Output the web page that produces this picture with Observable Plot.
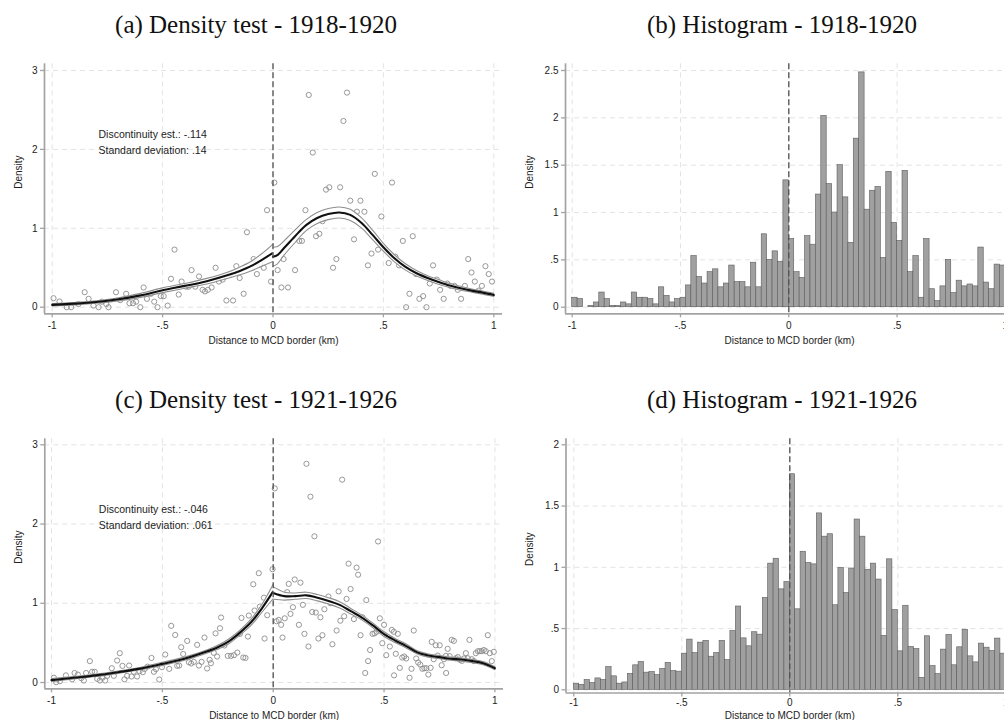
<!DOCTYPE html>
<html><head><meta charset="utf-8">
<script src="https://cdn.jsdelivr.net/npm/d3@7"></script>
<script src="https://cdn.jsdelivr.net/npm/@observablehq/plot@0.6"></script>
<style>
html,body{margin:0;padding:0;background:#fff;overflow:hidden;width:1004px;height:720px;}
#root{position:relative;width:1004px;height:720px;overflow:hidden;background:#fff;}
.title{position:absolute;font-family:"Liberation Serif","Times New Roman",serif;font-size:25px;line-height:1;color:#111;white-space:nowrap;transform:translateX(-50%);}
</style></head><body><div id="root"></div>
<script>
// ---------- tick values & labels ----------
const xTicks = [-1, -0.5, 0, 0.5, 1];
const aYTicks = [0, 1, 2, 3];
const bYTicks = [0, 0.5, 1, 1.5, 2, 2.5];
const cYTicks = [0, 1, 2, 3];
const dYTicks = [0, 0.5, 1, 1.5, 2];
const xTitle = "Distance to MCD border (km)";
const yTitle = "Density";
const titles = ["(a) Density test - 1918-1920", "(b) Histogram - 1918-1920", "(c) Density test - 1921-1926", "(d) Histogram - 1921-1926"];
const aNote = ["Discontinuity est.: -.114", "Standard deviation: .14"];
const cNote = ["Discontinuity est.: -.046", "Standard deviation: .061"];

// ---------- panel (a) scatter ----------
const aDotX = [-0.994,-0.967,-0.934,-0.914,-0.881,-0.853,-0.835,-0.813,-0.79,-0.775,-0.755,-0.745,-0.711,-0.692,-0.665,-0.65,-0.634,-0.62,-0.601,-0.586,-0.571,-0.553,-0.538,-0.523,-0.508,-0.495,-0.477,-0.462,-0.446,-0.427,-0.414,-0.393,-0.382,-0.369,-0.352,-0.335,-0.319,-0.308,-0.295,-0.278,-0.26,-0.245,-0.228,-0.211,-0.196,-0.181,-0.166,-0.151,-0.133,-0.118,-0.088,-0.073,-0.057,-0.042,-0.027,-0.009,
0.006,0.021,0.038,0.048,0.068,0.1,0.119,0.131,0.147,0.162,0.18,0.195,0.21,0.224,0.24,0.255,0.272,0.287,0.304,0.319,0.335,0.35,0.367,0.38,0.396,0.414,0.43,0.446,0.461,0.476,0.491,0.509,0.524,0.539,0.554,0.571,0.588,0.603,0.618,0.633,0.648,0.663,0.68,0.695,0.71,0.725,0.742,0.757,0.773,0.789,0.804,0.822,0.837,0.852,0.869,0.884,0.899,0.914,0.931,0.946,0.962,0.977,0.992];
const aDotY = [0.114,0.072,0,0,0.04,0.19,0.106,0.02,0,0.07,0.04,0,0.19,0.09,0.17,0.05,0.05,0.07,0,0.25,0.106,0.17,0.07,0,0.14,0.14,0.02,0.36,0.73,0.16,0.325,0.26,0.26,0.47,0.26,0.39,0.22,0.2,0.22,0.25,0.5,0.325,0.35,0.085,0.42,0.085,0.52,0.37,0.17,0.95,0.61,0.42,0.55,0.5,1.23,0.325,
1.58,0.47,0.25,0.61,0.25,0.47,0.84,0.84,1.23,2.69,1.96,0.9,0.93,1.09,1.49,1.52,0.5,0.61,1.52,2.36,2.72,1.35,0.86,1.21,1.35,1.21,0.53,0.68,1.69,0.73,1.15,0.73,0.56,1.58,0.64,0.53,0.84,0,0.17,0.9,0.42,0.106,0.14,0,0.3,0.53,0.35,0.22,0.106,0.3,0.27,0.27,0.22,0.106,0.27,0.61,0.44,0.325,0.21,0.27,0.52,0.42,0.325];

// ---------- panel (a) density fit ----------
const aLeftX  = [-1,-0.9,-0.8,-0.7,-0.6,-0.5,-0.4,-0.3,-0.2,-0.15,-0.1,-0.05,0];
const aLeftM  = [0.03,0.045,0.065,0.1,0.15,0.215,0.27,0.33,0.41,0.46,0.52,0.6,0.69];
const aLeftU  = [0.045,0.06,0.08,0.12,0.175,0.245,0.3,0.365,0.45,0.51,0.58,0.68,0.8];
const aLeftL  = [0.015,0.03,0.05,0.08,0.125,0.185,0.24,0.295,0.37,0.41,0.46,0.52,0.58];
const aRightX = [0,0.02,0.05,0.1,0.15,0.2,0.25,0.3,0.35,0.4,0.45,0.5,0.55,0.6,0.65,0.7,0.75,0.8,0.85,0.9,0.95,1];
const aRightM = [0.64,0.66,0.75,0.9,1.04,1.13,1.18,1.2,1.17,1.07,0.92,0.76,0.62,0.51,0.43,0.37,0.32,0.275,0.24,0.21,0.185,0.155];
const aRightU = [0.76,0.77,0.84,0.98,1.11,1.2,1.25,1.27,1.24,1.135,0.98,0.81,0.665,0.55,0.465,0.4,0.35,0.3,0.265,0.23,0.205,0.175];
const aRightL = [0.52,0.55,0.66,0.82,0.97,1.06,1.11,1.13,1.1,1.005,0.86,0.71,0.575,0.47,0.395,0.34,0.29,0.25,0.215,0.19,0.165,0.135];

// ---------- panel (c) scatter ----------
const cDotX = [-0.989,-0.979,-0.962,-0.935,-0.907,-0.896,-0.881,-0.866,-0.854,-0.844,-0.827,-0.817,-0.805,-0.794,-0.782,-0.77,-0.758,-0.749,-0.728,-0.719,-0.704,-0.692,-0.68,-0.671,-0.659,-0.65,-0.639,-0.629,-0.614,-0.603,-0.588,-0.58,-0.567,-0.549,-0.538,-0.529,-0.514,-0.502,-0.487,-0.469,-0.46,-0.442,-0.433,-0.424,-0.415,-0.406,-0.388,-0.38,-0.37,-0.358,-0.343,-0.335,-0.323,-0.31,-0.298,-0.287,-0.281,-0.268,-0.26,-0.253,-0.24,-0.235,-0.22,-0.205,-0.19,-0.177,-0.162,-0.15,-0.143,-0.135,-0.125,-0.114,-0.11,-0.09,-0.084,-0.065,-0.06,-0.042,-0.039,-0.027,-0.003,
0.007,0.015,0.025,0.036,0.042,0.052,0.063,0.07,0.078,0.089,0.097,0.116,0.123,0.134,0.141,0.15,0.159,0.168,0.176,0.186,0.192,0.204,0.213,0.222,0.231,0.249,0.258,0.267,0.286,0.295,0.303,0.311,0.32,0.331,0.34,0.349,0.364,0.376,0.383,0.394,0.403,0.42,0.428,0.437,0.448,0.457,0.466,0.473,0.481,0.492,0.5,0.51,0.526,0.535,0.544,0.553,0.562,0.571,0.582,0.591,0.6,0.624,0.634,0.645,0.654,0.663,0.673,0.682,0.691,0.71,0.715,0.724,0.733,0.742,0.751,0.76,0.77,0.779,0.787,0.796,0.805,0.815,0.824,0.833,0.842,0.851,0.86,0.869,0.878,0.885,0.896,0.905,0.914,0.923,0.932,0.941,0.95,0.959,0.968,0.977,0.986,0.995,0.415,0.545,0.615,0.7,0.78];
const cDotY = [0.06,0.004,0.017,0.09,0.04,0.12,0.1,0.055,0.025,0.12,0.27,0.135,0.135,0.046,0.025,0.06,0.025,0.084,0.18,0.084,0.277,0.37,0.21,0.04,0.084,0.214,0.076,0.135,0.076,0.143,0.13,0.17,0.2,0.31,0.135,0.168,0.038,0.193,0.353,0.172,0.715,0.6,0.21,0.214,0.445,0.36,0.525,0.256,0.24,0.26,0.475,0.214,0.26,0.567,0.177,0.286,0.244,0.374,0.62,0.328,0.685,0.82,0.467,0.336,0.336,0.345,0.378,0.614,0.815,0.315,0.31,0.58,0.845,1.24,0.908,1.38,0.958,1.07,0.555,0.849,1.43,
2.45,0.773,0.79,0.728,0.567,0.81,1.14,1.245,0.866,0.95,1.3,0.728,1.26,0.98,0.614,2.76,0.454,2.345,0.89,1.845,0.883,0.555,0.823,0.597,0.925,1.085,1.0,0.483,0.656,1.15,0.78,2.56,0.836,1.055,1.5,1.18,0.8,1.45,1.36,0.597,0.823,1.04,0.27,0.41,0.614,0.62,0.64,1.78,0.81,0.496,0.728,0.345,0.454,0.664,0.64,0.362,0.614,0.185,0.315,0.328,0.303,0.173,0.656,0.303,0.252,0.227,0.173,0.18,0.18,0.185,0.513,0.294,0.47,0.34,0.47,0.218,0.294,0.336,0.425,0.332,0.538,0.525,0.306,0.32,0.286,0.273,0.303,0.37,0.306,0.538,0.294,0.27,0.37,0.395,0.395,0.395,0.41,0.395,0.597,0.37,0.27,0.387,0.12,0.09,0.06,0.1,0.12];

// ---------- panel (c) density fit ----------
const cLeftX  = [-1,-0.9,-0.8,-0.7,-0.6,-0.5,-0.4,-0.3,-0.25,-0.2,-0.15,-0.1,-0.05,0];
const cLeftM  = [0.03,0.06,0.09,0.13,0.175,0.235,0.3,0.39,0.445,0.52,0.63,0.76,0.94,1.15];
const cLeftU  = [0.05,0.075,0.105,0.145,0.19,0.255,0.32,0.41,0.47,0.55,0.66,0.8,0.99,1.24];
const cLeftL  = [0.01,0.045,0.075,0.115,0.16,0.215,0.28,0.37,0.42,0.49,0.6,0.72,0.89,1.06];
const cRightX = [0,0.05,0.1,0.15,0.2,0.25,0.3,0.35,0.4,0.45,0.5,0.55,0.6,0.65,0.7,0.75,0.8,0.85,0.9,0.95,1];
const cRightM = [1.13,1.09,1.09,1.1,1.07,1.03,0.98,0.9,0.82,0.72,0.61,0.53,0.46,0.38,0.34,0.32,0.3,0.29,0.27,0.24,0.18];
const cRightU = [1.21,1.14,1.13,1.14,1.11,1.07,1.02,0.935,0.85,0.75,0.64,0.555,0.485,0.4,0.36,0.34,0.32,0.31,0.29,0.26,0.2];
const cRightL = [1.05,1.04,1.05,1.06,1.03,0.99,0.94,0.865,0.79,0.69,0.58,0.505,0.435,0.36,0.32,0.3,0.28,0.27,0.25,0.22,0.16];

// ---------- histograms (bins of 0.025 from -1 to 1) ----------
const binStart = -1, binWidth = 0.025;
const bHist = [0.10,0.086,0,0.014,0.05,0.155,0.086,0.014,0.014,0.05,
0.03,0.155,0.10,0.10,0.086,0.03,0.21,0.12,0.05,0.086,
0.10,0.23,0.54,0.32,0.25,0.37,0.40,0.21,0.25,0.44,
0.265,0.265,0.21,0.47,0.21,0.77,0.50,0.59,0.48,1.34,
0.72,0.37,0.31,0.75,0.66,1.19,2.02,1.30,1.0,1.50,
1.16,0.68,1.78,2.48,1.03,1.23,1.27,0.52,1.43,0.89,
0.70,1.44,0.37,0.54,0.10,0.72,0.19,0.064,0.22,0.50,
0.15,0.28,0.22,0.24,0.22,0.63,0.26,0.19,0.45,0.44];
const dHist = [0.05,0.04,0.08,0.055,0.093,0.08,0.186,0.11,0.05,0.06,
0.13,0.20,0.227,0.14,0.145,0.12,0.17,0.22,0.153,0.148,
0.295,0.41,0.30,0.385,0.40,0.27,0.30,0.40,0.243,0.48,
0.68,0.42,0.355,0.47,0.45,0.75,1.03,1.07,0.82,0.88,
1.76,0.657,1.127,1.035,1.024,1.44,1.25,1.27,0.69,0.995,
0.79,0.99,1.39,1.25,0.98,1.03,0.90,0.44,1.065,0.65,
0.314,0.686,0.35,0.333,0.098,0.437,0.194,0.128,0.328,0.448,
0.2,0.347,0.49,0.273,0.224,0.377,0.344,0.317,0.418,0.295];

// ---------- helpers ----------
const GRID = "#dcdcdc", AXIS = "#a3a3a3", TEXT = "#222";
const fmt = v => String(+(+v).toFixed(2)).replace(/^(-?)0\./, "$1.");
const zipPts = (xs, ys) => xs.map((x, i) => ({x, y: ys[i]}));
const band = (xs, m, u, l) => xs.map((x, i) => ({x, m: m[i], u: u[i], l: l[i]}));
const bins = vals => vals.map((v, i) => ({x1: binStart + i * binWidth, x2: binStart + (i + 1) * binWidth, v}));

function fitMarks(b) {
  return [
    Plot.areaY(b, {x: "x", y1: "l", y2: "u", fill: "#fff", fillOpacity: 0.85, curve: "catmull-rom"}),
    Plot.line(b, {x: "x", y: "u", stroke: "#8e8e8e", strokeWidth: 1.1, curve: "catmull-rom"}),
    Plot.line(b, {x: "x", y: "l", stroke: "#8e8e8e", strokeWidth: 1.1, curve: "catmull-rom"}),
    Plot.line(b, {x: "x", y: "m", stroke: "#111", strokeWidth: 2.1, curve: "catmull-rom"})
  ];
}

function panel(cfg) {
  const [xv0, xp0, xv1, xp1] = cfg.xmap;
  const [yv0, yp0, yv1, yp1] = cfg.ymap;
  const kx = (xp1 - xp0) / (xv1 - xv0), ky = (yp1 - yp0) / (yv1 - yv0);
  const xAt = p => xv0 + (p - xp0) / kx, yAt = p => yv0 + (p - yp0) / ky;
  const xd = [xAt(cfg.fx0), xAt(cfg.fx1)], yd = [yAt(cfg.fy1), yAt(cfg.fy0)];
  const marks = [
    Plot.gridX(xTicks, {stroke: GRID, strokeOpacity: 1, strokeWidth: 0.8, strokeDasharray: "5,4"}),
    Plot.gridY(cfg.yTicks, {stroke: GRID, strokeOpacity: 1, strokeWidth: 0.8, strokeDasharray: "5,4"}),
    ...cfg.marks,
    Plot.ruleX([0], {stroke: "#505050", strokeWidth: 1.3, strokeDasharray: "6,3"}),
    Plot.ruleX([xd[0]], {stroke: AXIS, strokeWidth: 1.7}),
    Plot.ruleY([yd[0]], {stroke: AXIS, strokeWidth: 1.7}),
    Plot.axisX({ticks: xTicks, tickFormat: fmt, tickSize: 4, tickPadding: cfg.xPad, stroke: AXIS, strokeWidth: 1.3, fill: TEXT, fontSize: 10, label: null}),
    Plot.axisY({ticks: cfg.yTicks, tickFormat: fmt, tickSize: 4, tickPadding: 3, stroke: AXIS, strokeWidth: 1.3, fill: TEXT, fontSize: 10, label: null}),
    Plot.text([xTitle], {text: d => d, frameAnchor: "bottom", dy: cfg.xTitleDy, fontSize: 10, fill: TEXT, lineAnchor: "middle"}),
    Plot.text([yTitle], {text: d => d, frameAnchor: "left", dx: cfg.yTitleX - cfg.fx0, rotate: -90, fontSize: 10, fill: TEXT})
  ];
  if (cfg.note) {
    cfg.note.forEach((t, i) => marks.push(Plot.text([t], {text: d => d, frameAnchor: "top-left", dx: 54, dy: 70.7 + 16 * i, textAnchor: "start", lineAnchor: "middle", fontSize: 10.5, fill: TEXT})));
  }
  const svg = Plot.plot({
    width: cfg.width, height: cfg.height,
    marginLeft: cfg.fx0 - cfg.left, marginRight: cfg.left + cfg.width - cfg.fx1,
    marginTop: cfg.fy0 - cfg.top, marginBottom: cfg.top + cfg.height - cfg.fy1,
    x: {domain: xd}, y: {domain: yd},
    style: {fontFamily: "'Liberation Sans', Arial, sans-serif", fontSize: "10px", background: "transparent", overflow: "visible", color: TEXT},
    marks
  });
  svg.style.position = "absolute";
  svg.style.left = cfg.left + "px";
  svg.style.top = cfg.top + "px";
  document.getElementById("root").appendChild(svg);
}

const dotStyle = {r: 2.6, stroke: "#8c8c8c", strokeWidth: 0.9, fill: "none"};
const barStyle = {fill: "#a0a0a0", stroke: "#5c5c5c", strokeWidth: 0.6};

panel({left: 0, top: 40, width: 510, height: 320, fx0: 44, fx1: 502, fy0: 63.3, fy1: 313.3,
  xmap: [-1, 51.7, 1, 493.3], ymap: [0, 306.7, 3, 70], yTicks: aYTicks, xPad: 4, xTitleDy: 27.4, yTitleX: 18, note: aNote,
  marks: [Plot.dot(zipPts(aDotX, aDotY), {x: "x", y: "y", ...dotStyle}),
          ...fitMarks(band(aLeftX, aLeftM, aLeftU, aLeftL)), ...fitMarks(band(aRightX, aRightM, aRightU, aRightL))]});

panel({left: 505, top: 40, width: 520, height: 320, fx0: 565, fx1: 1013, fy0: 63.3, fy1: 313.3,
  xmap: [-1, 571.7, 0, 788.3], ymap: [0, 306.7, 2.5, 70], yTicks: bYTicks, xPad: 4, xTitleDy: 27.4, yTitleX: 529.3,
  marks: [Plot.rect(bins(bHist), {x1: "x1", x2: "x2", y1: 0, y2: "v", ...barStyle})]});

panel({left: 0, top: 415, width: 510, height: 305, fx0: 44.3, fx1: 503, fy0: 438.3, fy1: 688.3,
  xmap: [-1, 51, 0, 272.7], ymap: [0, 682, 3, 444.3], yTicks: cYTicks, xPad: 4, xTitleDy: 26.7, yTitleX: 18.3, note: cNote,
  marks: [Plot.dot(zipPts(cDotX, cDotY), {x: "x", y: "y", ...dotStyle}),
          ...fitMarks(band(cLeftX, cLeftM, cLeftU, cLeftL)), ...fitMarks(band(cRightX, cRightM, cRightU, cRightL))]});

panel({left: 505, top: 415, width: 520, height: 305, fx0: 565.5, fx1: 1013, fy0: 438.3, fy1: 692.5,
  xmap: [-1, 573.3, 0, 789.3], ymap: [0, 689.3, 2, 444.3], yTicks: dYTicks, xPad: 2, xTitleDy: 22.5, yTitleX: 529.3,
  marks: [Plot.rect(bins(dHist), {x1: "x1", x2: "x2", y1: 0, y2: "v", ...barStyle})]});

// titles
const titlePos = [[256, 12.4], [782, 12.4], [256, 387.4], [782, 387.4]];
titles.forEach((t, i) => {
  const d = document.createElement("div");
  d.className = "title";
  d.textContent = t;
  d.style.left = titlePos[i][0] + "px";
  d.style.top = titlePos[i][1] + "px";
  document.getElementById("root").appendChild(d);
});
</script></body></html>
